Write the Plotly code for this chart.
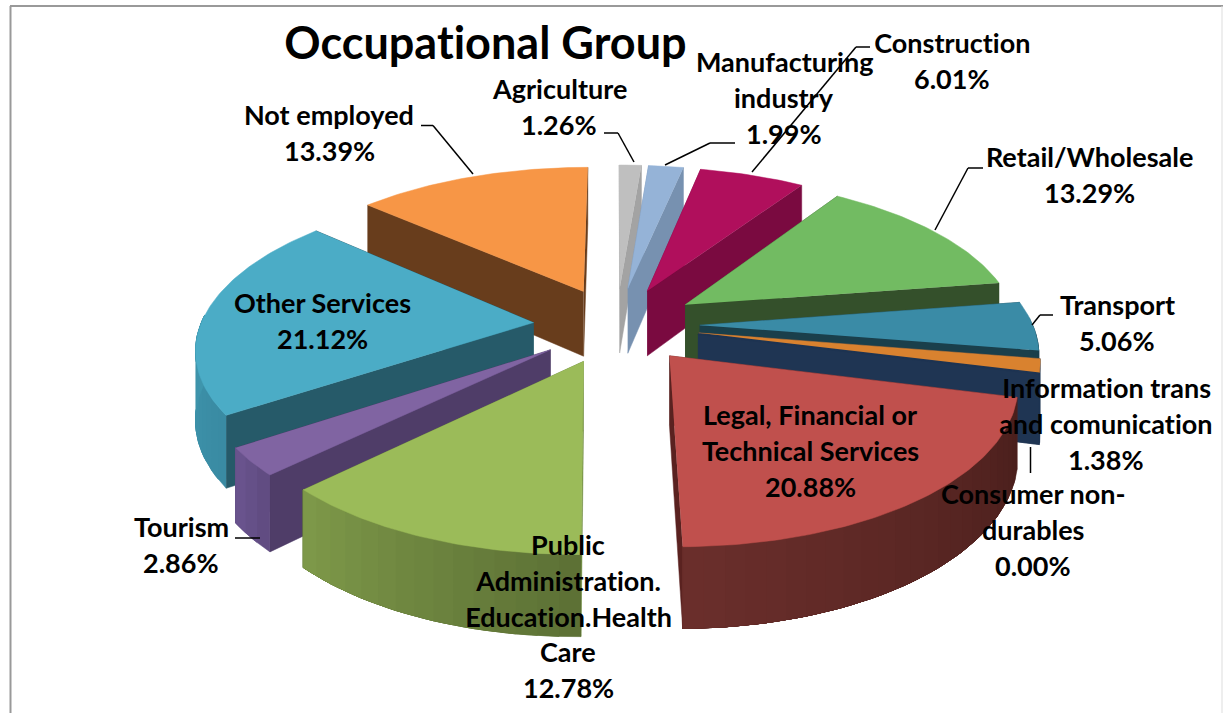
import math
import plotly.graph_objects as go

# ---- data ----
categories = ["Agriculture", "Manufacturing industry", "Construction", "Retail/Wholesale",
              "Transport", "Information trans and comunication", "Consumer non-durables",
              "Legal, Financial or Technical Services", "Public Administration. Education.Health Care",
              "Tourism", "Other Services", "Not employed"]
shares = [1.26, 1.99, 6.01, 13.29, 5.06, 1.38, 0.00, 20.88, 12.78, 2.86, 21.12, 13.39]
top_colors = ["#BFBFBF", "#95B3D7", "#B00F5C", "#72BB62", "#3A8BA6", "#D9822F", "#1F3553",
              "#C0504D", "#9BBB59", "#8064A2", "#4BACC6", "#F79646"]
face_colors = ["#A3A3A3", "#7791B0", "#7A0A40", "#34502B", "#1A3F4B", "#1F3553", "#1F3553",
               "#5A2220", "#6F8A40", "#4F3D68", "#265A69", "#683D1C"]
rim_start = ["#A3A3A3", "#7791B0", "#7A0A40", "#34502B", "#1A3F4B", "#1F3553", "#1F3553",
             "#4A1F1C", "#5C7035", "#5F4B80", "#3A8BA3", "#683D1C"]
rim_end = ["#A3A3A3", "#7791B0", "#7A0A40", "#34502B", "#1A3F4B", "#1F3553", "#1F3553",
           "#6B2F2C", "#7F9A4A", "#6B5590", "#4097AE", "#683D1C"]

# projection settings
EXPLODE = 0.25
PERSPECTIVE = 0.15
DEPTH = 67 / 152
PX = 333.0       # pixels per x unit (set through the axis range)
PY = 152.0       # pixels per y unit (set through the axis range)
CX, CY = 616.5, 325.0
W, H = 1223, 713


def project(X, Y, z=0.0):
    s = 1.0 / (1.0 - PERSPECTIVE * Y)
    return X * s, (Y + z) * s


def mix(c1, c2, f):
    a = [int(c1[i:i + 2], 16) for i in (1, 3, 5)]
    b = [int(c2[i:i + 2], 16) for i in (1, 3, 5)]
    return "#%02X%02X%02X" % tuple(int(p + (q - p) * f) for p, q in zip(a, b))


def poly(points, color):
    return go.Scatter(x=[p[0] for p in points], y=[p[1] for p in points], mode="lines",
                      fill="toself", fillcolor=color, line=dict(color=color, width=0.5),
                      hoverinfo="skip", showlegend=False)


total = sum(shares)
slices = []
cum = 0.0
for name, v, tc, fc, r1, r2 in zip(categories, shares, top_colors, face_colors, rim_start, rim_end):
    t1 = cum / total * 2 * math.pi
    cum += v
    t2 = cum / total * 2 * math.pi
    slices.append(dict(name=name, t1=t1, t2=t2, mid=(t1 + t2) / 2, top=tc, face=fc, r1=r1, r2=r2))

fig = go.Figure()
for sl in sorted(slices, key=lambda d: -math.cos(d["mid"])):
    mid = sl["mid"]
    ox, oy = EXPLODE * math.sin(mid), -EXPLODE * math.cos(mid)

    def plane(t, r=1.0):
        return ox + r * math.sin(t), oy - r * math.cos(t)

    def face(t):
        return [project(ox, oy), project(*plane(t)), project(*plane(t), DEPTH), project(ox, oy, DEPTH)]

    order = (sl["t1"], sl["t2"]) if mid < math.pi else (sl["t2"], sl["t1"])
    fig.add_trace(poly(face(order[0]), sl["face"]))
    fig.add_trace(poly(face(order[1]), sl["face"]))

    # outer wall: the part turned to the viewer; each shaded strip runs on to the
    # wall's end and the next one is painted over it, so no seams show
    a = max(sl["t1"], math.pi / 2 - 0.05)
    b = min(sl["t2"], 3 * math.pi / 2 + 0.05)
    if b > a:
        n = max(1, int((b - a) / math.radians(3)))
        for i in range(n):
            u1 = a + (b - a) * i / n
            m = max(2, int((b - u1) / math.radians(1.5)))
            steps = [u1 + (b - u1) * j / m for j in range(m + 1)]
            pts = [project(*plane(u)) for u in steps] + [project(*plane(u), DEPTH) for u in reversed(steps)]
            fig.add_trace(poly(pts, mix(sl["r1"], sl["r2"], (i + 0.5) / n)))

    # top surface
    if sl["t2"] > sl["t1"]:
        n = max(2, int((sl["t2"] - sl["t1"]) / math.radians(1)))
        arc = [project(*plane(sl["t1"] + (sl["t2"] - sl["t1"]) * j / n)) for j in range(n + 1)]
        fig.add_trace(poly([project(ox, oy)] + arc, sl["top"]))

# ---- text (line groups: centre x, first-line y) ----
label_lines = [
    (["Agriculture", "1.26%"], 559, 90),
    (["Manufacturing", "industry", "1.99%"], 784, 63),
    (["Construction", "6.01%"], 952, 44),
    (["Retail/Wholesale", "13.29%"], 1089, 158),
    (["Transport", "5.06%"], 1117, 306),
    (["Information trans", "and comunication", "1.38%"], 1106, 389),
    (["Consumer non-", "durables", "0.00%"], 1033, 495),
    (["Legal, Financial or", "Technical Services", "20.88%"], 810, 416),
    (["Public", "Administration.", "Education.Health", "Care", "12.78%"], 568, 546),
    (["Tourism", "2.86%"], 181, 528),
    (["Other Services", "21.12%"], 322, 304),
    (["Not employed", "13.39%"], 329, 116),
]
FONT = "Lato"
LINE = 35.8
annotations = [dict(text="<b>Occupational Group</b>", x=485 / W, y=1 - 42 / H, xref="paper", yref="paper",
                    showarrow=False, xanchor="center", yanchor="middle",
                    font=dict(family=FONT, size=45, color="black"))]
for lines, cx, cy in label_lines:
    for i, line in enumerate(lines):
        annotations.append(dict(text=f"<b>{line}</b>", x=cx / W, y=1 - (cy + i * LINE - 1.5) / H,
                                xref="paper", yref="paper", showarrow=False,
                                xanchor="center", yanchor="middle",
                                font=dict(family=FONT, size=27, color="black")))

leaders = [
    [(421, 125.5), (433, 125.5), (473, 174)],
    [(604, 133), (618, 133), (634, 162)],
    [(735, 143), (710, 143), (665, 165)],
    [(870, 47), (856, 47), (752, 172)],
    [(983, 168), (968, 168), (935, 230)],
    [(1053, 315), (1040, 315), (1032, 325)],
    [(235, 538), (260, 538)],
    [(1030.5, 447), (1030.5, 473)],
]
shapes = []
for path in leaders:
    for (x0, y0), (x1, y1) in zip(path, path[1:]):
        shapes.append(dict(type="line", xref="paper", yref="paper", x0=x0 / W, x1=x1 / W,
                           y0=1 - y0 / H, y1=1 - y1 / H, line=dict(color="black", width=1.5)))
# chart frame
shapes += [
    dict(type="line", xref="paper", yref="paper", x0=10.5 / W, x1=10.5 / W, y0=1 - 6 / H, y1=0,
         line=dict(color="#999999", width=2)),
    dict(type="line", xref="paper", yref="paper", x0=10 / W, x1=1, y0=1 - 6 / H, y1=1 - 6 / H,
         line=dict(color="#999999", width=2)),
    dict(type="line", xref="paper", yref="paper", x0=1222 / W, x1=1222 / W, y0=1 - 6 / H, y1=0,
         line=dict(color="#DDDDDD", width=1)),
]

fig.update_layout(
    width=W, height=H, margin=dict(l=0, r=0, t=0, b=0), showlegend=False,
    paper_bgcolor="white", plot_bgcolor="white",
    xaxis=dict(range=[-CX / PX, (W - CX) / PX], visible=False, fixedrange=True),
    yaxis=dict(range=[(H - CY) / PY, -CY / PY], visible=False, fixedrange=True),
    annotations=annotations, shapes=shapes,
)
page_fix = """
document.body.style.margin = '0';
document.body.style.overflow = 'hidden';
var st = document.createElement('style');
st.textContent = 'svg text { font-variant-ligatures: none; font-feature-settings: "liga" 0, "clig" 0, "dlig" 0, "calt" 0; letter-spacing: 0.01px; }';
document.head.appendChild(st);
"""
fig.write_html("out.html", post_script=page_fix, config=dict(displayModeBar=False))
